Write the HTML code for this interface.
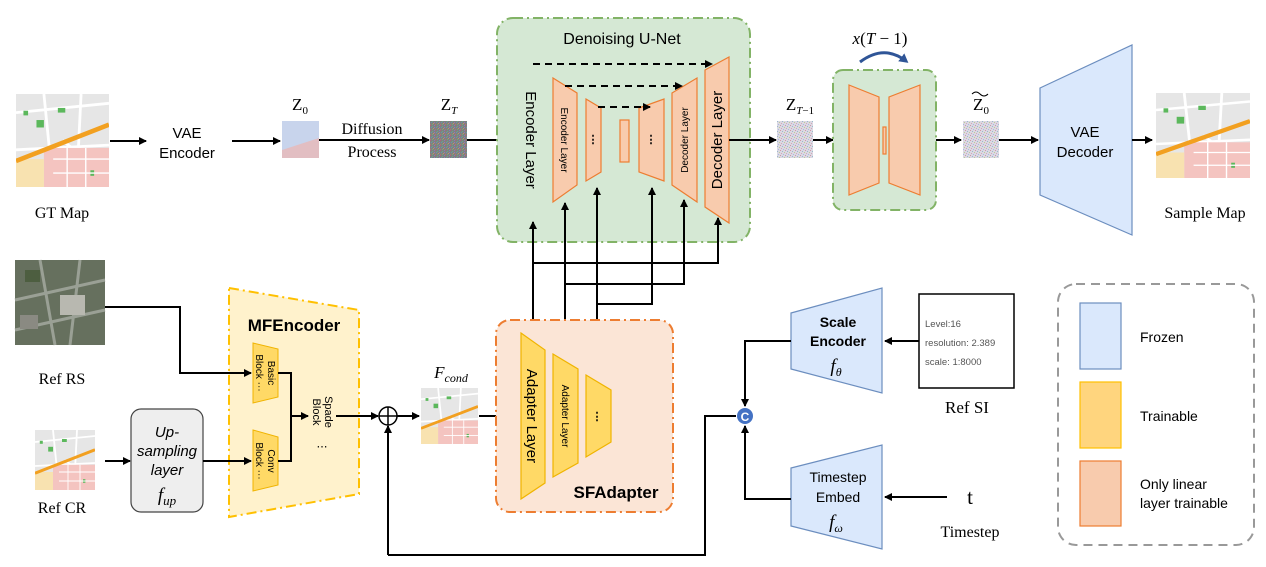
<!DOCTYPE html>
<html><head><meta charset="utf-8"><style>
html,body{margin:0;padding:0;background:#fff;}
svg{display:block;}
text{font-family:"Liberation Sans",sans-serif;}
.serif{font-family:"Liberation Serif",serif;}
</style></head><body>
<svg width="1266" height="567" viewBox="0 0 1266 567" xmlns="http://www.w3.org/2000/svg">
<defs>
<marker id="ar" markerWidth="8" markerHeight="8" refX="7" refY="4" orient="auto" markerUnits="userSpaceOnUse">
<path d="M0,0 L8,4 L0,8 z" fill="#000"/></marker>
<marker id="arb" markerWidth="10" markerHeight="10" refX="6" refY="5" orient="auto" markerUnits="userSpaceOnUse">
<path d="M0,0 L9,5 L0,10 z" fill="#2f5597"/></marker>
<symbol id="map" viewBox="0 0 100 100" preserveAspectRatio="none">
<rect width="100" height="100" fill="#e6e6e6"/>
<path d="M0,20 L100,10 M30,0 L40,100 M0,60 L100,55 M70,0 L65,100 M50,50 L100,90" stroke="#fff" stroke-width="3"/>
<rect x="30" y="58" width="70" height="42" fill="#f4c4c0"/>
<rect x="0" y="70" width="30" height="30" fill="#f8e2b0"/>
<path d="M0,72 L100,33" stroke="#f2a020" stroke-width="5"/>
<rect x="22" y="28" width="8" height="8" fill="#5cb85c"/><rect x="45" y="15" width="8" height="5" fill="#5cb85c"/>
<rect x="8" y="18" width="5" height="5" fill="#5cb85c"/><rect x="80" y="82" width="4" height="6" fill="#5cb85c"/>
<path d="M40,70 L100,70 M40,85 L100,85 M55,58 L55,100 M75,58 L75,100" stroke="#fff" stroke-width="1.5"/>
</symbol>
<pattern id="pn" width="5" height="5" patternUnits="userSpaceOnUse">
<rect width="5" height="5" fill="#808080"/>
<rect x="0" y="0" width="1" height="1" fill="#a67"/><rect x="2" y="1" width="1" height="1" fill="#6a8"/>
<rect x="4" y="0" width="1" height="1" fill="#78b"/><rect x="3" y="3" width="1" height="1" fill="#b96"/>
<rect x="1" y="2" width="1" height="1" fill="#69a"/><rect x="0" y="4" width="1" height="1" fill="#a77"/>
<rect x="2" y="4" width="1" height="1" fill="#7a7"/><rect x="4" y="2" width="1" height="1" fill="#97b"/>
</pattern>
<pattern id="pn2" width="5" height="5" patternUnits="userSpaceOnUse">
<rect width="5" height="5" fill="#dcd8e2"/>
<rect x="0" y="0" width="1" height="1" fill="#c9a"/><rect x="2" y="1" width="1" height="1" fill="#9bc"/>
<rect x="4" y="2" width="1" height="1" fill="#bc9"/><rect x="1" y="3" width="1" height="1" fill="#cab"/>
<rect x="3" y="4" width="1" height="1" fill="#abd"/>
</pattern>
</defs>

<!-- top row -->
<use href="#map" x="16" y="94" width="93" height="93"/>
<text x="62" y="218" font-size="16" text-anchor="middle" class="serif">GT Map</text>
<line x1="110" y1="141" x2="146" y2="141" stroke="#000" stroke-width="2" marker-end="url(#ar)"/>
<text x="187" y="138" font-size="15" text-anchor="middle">VAE</text>
<text x="187" y="158" font-size="15" text-anchor="middle">Encoder</text>
<line x1="232" y1="141" x2="280" y2="141" stroke="#000" stroke-width="2" marker-end="url(#ar)"/>
<rect x="282" y="121" width="37" height="37" fill="#c8d4ec"/>
<path d="M282,150 L319,138 L319,158 L282,158z" fill="#e9b8b8" opacity="0.8"/>
<text x="300" y="110" font-size="17" text-anchor="middle" class="serif">Z<tspan font-size="11" dy="4">0</tspan></text>
<line x1="319" y1="140" x2="429" y2="140" stroke="#000" stroke-width="2" marker-end="url(#ar)"/>
<text x="372" y="134" font-size="16" text-anchor="middle" class="serif">Diffusion</text>
<text x="372" y="157" font-size="16" text-anchor="middle" class="serif">Process</text>
<rect x="430" y="121" width="37" height="37" fill="url(#pn)"/>
<text x="449" y="110" font-size="17" text-anchor="middle" class="serif">Z<tspan font-size="11" dy="4" font-style="italic">T</tspan></text>
<line x1="467" y1="140" x2="512" y2="140" stroke="#000" stroke-width="2" marker-end="url(#ar)"/>

<!-- U-Net -->
<rect x="497" y="18" width="253" height="224" rx="16" fill="#d5e8d4" stroke="#82b366" stroke-width="2" stroke-dasharray="10,4,2,4"/>
<text x="622" y="44" font-size="16" text-anchor="middle">Denoising U-Net</text>
<text transform="translate(526,140) rotate(90)" font-size="15" text-anchor="middle">Encoder Layer</text>
<g fill="#f8cbad" stroke="#ed7d31" stroke-width="1.2">
<path d="M553,78 L577,93 L577,185 L553,202z"/>
<path d="M586,99 L601,108 L601,172 L586,181z"/>
<rect x="620" y="120" width="9" height="42"/>
<path d="M639,108 L664,99 L664,181 L639,172z"/>
<path d="M672,93 L697,78 L697,202 L672,185z"/>
<path d="M705,70 L729,57 L729,223 L705,207z"/>
</g>
<text transform="translate(561,140) rotate(90)" font-size="10" text-anchor="middle">Encoder Layer</text>
<text x="593" y="143" font-size="11" text-anchor="middle" font-weight="bold">⋮</text>
<text x="651" y="143" font-size="11" text-anchor="middle" font-weight="bold">⋮</text>
<text transform="translate(688,140) rotate(-90)" font-size="10" text-anchor="middle">Decoder Layer</text>
<text transform="translate(722,140) rotate(-90)" font-size="15" text-anchor="middle">Decoder Layer</text>
<g stroke="#000" stroke-width="2" stroke-dasharray="7,5" fill="none">
<line x1="533" y1="64" x2="712" y2="64" marker-end="url(#ar)"/>
<line x1="565" y1="86" x2="682" y2="86" marker-end="url(#ar)"/>
<line x1="598" y1="107" x2="650" y2="107" marker-end="url(#ar)"/>
</g>
<line x1="729" y1="140" x2="776" y2="140" stroke="#000" stroke-width="2" marker-end="url(#ar)"/>
<rect x="777" y="121" width="36" height="37" fill="url(#pn2)"/>
<text x="800" y="110" font-size="17" text-anchor="middle" class="serif">Z<tspan font-size="11" dy="4" font-style="italic">T</tspan><tspan font-size="11">−1</tspan></text>
<line x1="813" y1="140" x2="833" y2="140" stroke="#000" stroke-width="2" marker-end="url(#ar)"/>

<rect x="833" y="70" width="103" height="140" rx="10" fill="#d5e8d4" stroke="#82b366" stroke-width="2" stroke-dasharray="10,4,2,4"/>
<g fill="#f8cbad" stroke="#ed7d31" stroke-width="1.2">
<path d="M849,85 L879,97 L879,183 L849,195z"/>
<rect x="883" y="127" width="3" height="27"/>
<path d="M920,85 L889,97 L889,183 L920,195z"/>
</g>
<text x="880" y="44" font-size="17" text-anchor="middle" class="serif" font-style="italic">x<tspan font-style="normal">(</tspan>T<tspan font-style="normal"> − 1)</tspan></text>
<path d="M860,62 Q884,44 906,61" stroke="#2f5597" stroke-width="3" fill="none" marker-end="url(#arb)"/>
<line x1="936" y1="140" x2="961" y2="140" stroke="#000" stroke-width="2" marker-end="url(#ar)"/>
<rect x="963" y="121" width="36" height="37" fill="url(#pn2)"/>
<text x="981" y="110" font-size="17" text-anchor="middle" class="serif">Z<tspan font-size="11" dy="4">0</tspan></text>
<path d="M972,94 Q976,90 980,94 T988,94" stroke="#000" fill="none"/>
<line x1="999" y1="140" x2="1038" y2="140" stroke="#000" stroke-width="2" marker-end="url(#ar)"/>
<path d="M1040,88 L1132,45 L1132,235 L1040,195z" fill="#dae8fc" stroke="#6c8ebf" stroke-width="1.2"/>
<text x="1085" y="137" font-size="15" text-anchor="middle">VAE</text>
<text x="1085" y="157" font-size="15" text-anchor="middle">Decoder</text>
<line x1="1132" y1="140" x2="1152" y2="140" stroke="#000" stroke-width="2" marker-end="url(#ar)"/>
<use href="#map" x="1156" y="93" width="94" height="85"/>
<text x="1205" y="218" font-size="16" text-anchor="middle" class="serif">Sample Map</text>

<!-- connections from adapter up -->
<g stroke="#000" stroke-width="2" fill="none">
<polyline points="533,343 533,222" marker-end="url(#ar)"/>
<polyline points="533,263 718,263 718,218" marker-end="url(#ar)"/>
<polyline points="565,367 565,203" marker-end="url(#ar)"/>
<polyline points="565,284 684,284 684,200" marker-end="url(#ar)"/>
<polyline points="597,391 597,188" marker-end="url(#ar)"/>
<polyline points="597,304 652,304 652,188" marker-end="url(#ar)"/>
</g>

<!-- bottom left -->
<rect x="15" y="260" width="90" height="85" fill="#66705e"/>
<path d="M15,300 L105,280 M40,260 L55,345 M15,330 L105,310 M80,260 L70,345" stroke="#9aa095" stroke-width="3"/>
<rect x="60" y="295" width="25" height="20" fill="#b8b8b0"/>
<rect x="25" y="270" width="15" height="12" fill="#4d5e40"/>
<rect x="20" y="315" width="18" height="14" fill="#8a8a82"/>
<text x="62" y="384" font-size="16" text-anchor="middle" class="serif">Ref RS</text>
<use href="#map" x="35" y="430" width="60" height="60"/>
<text x="62" y="513" font-size="16" text-anchor="middle" class="serif">Ref CR</text>
<line x1="105" y1="461" x2="130" y2="461" stroke="#000" stroke-width="2" marker-end="url(#ar)"/>
<rect x="131" y="409" width="72" height="103" rx="10" fill="#eeeeee" stroke="#444" stroke-width="1.2"/>
<g font-size="15" font-style="italic" text-anchor="middle">
<text x="167" y="437">Up-</text><text x="167" y="456">sampling</text><text x="167" y="475">layer</text>
<text x="167" y="501" class="serif" font-size="19">f<tspan font-size="13" dy="4">up</tspan></text></g>

<path d="M229,288 L359,310 L359,494 L229,517z" fill="#fff2cc" stroke="#ffc000" stroke-width="2" stroke-dasharray="10,4,2,4"/>
<text x="294" y="331" font-size="17" font-weight="bold" text-anchor="middle">MFEncoder</text>
<g fill="#ffd966" stroke="#f0b400" stroke-width="1">
<path d="M253,343 L278,349 L278,397 L253,403z"/>
<path d="M253,430 L278,437 L278,485 L253,491z"/>
</g>
<text transform="translate(266,373) rotate(90)" font-size="10" text-anchor="middle"><tspan x="0" dy="-2">Basic</tspan><tspan x="0" dy="12">Block ⋯</tspan></text>
<text transform="translate(266,461) rotate(90)" font-size="10" text-anchor="middle"><tspan x="0" dy="-2">Conv</tspan><tspan x="0" dy="12">Block ⋯</tspan></text>
<text transform="translate(323,412) rotate(90)" font-size="11" text-anchor="middle"><tspan x="0" dy="-2">Spade</tspan><tspan x="0" dy="12">Block</tspan></text>
<text x="322" y="450" font-size="11" text-anchor="middle">⋯</text>
<g stroke="#000" stroke-width="2" fill="none">
<polyline points="105,307 180,307 180,373 251,373" marker-end="url(#ar)"/>
<polyline points="203,461 251,461" marker-end="url(#ar)"/>
<polyline points="278,373 291,373 291,461 278,461"/>
<polyline points="291,416 308,416" marker-end="url(#ar)"/>
<polyline points="336,416 378,416" marker-end="url(#ar)"/>
<polyline points="397,416 419,416" marker-end="url(#ar)"/>
<polyline points="388,555 388,426" marker-end="url(#ar)"/>
<polyline points="388,555 705,555 705,416 736,416"/>
</g>
<circle cx="388" cy="416" r="9" fill="#fff" stroke="#000" stroke-width="1.5"/>
<path d="M379,416 H397 M388,407 V425" stroke="#000" stroke-width="1.5"/>
<use href="#map" x="421" y="388" width="57" height="56"/>
<text x="451" y="378" font-size="17" text-anchor="middle" class="serif" font-style="italic">F<tspan font-size="12" dy="4">cond</tspan></text>
<line x1="479" y1="416" x2="519" y2="416" stroke="#000" stroke-width="2" marker-end="url(#ar)"/>

<!-- SFAdapter -->
<rect x="496" y="320" width="177" height="192" rx="14" fill="#fbe5d6" stroke="#ed7d31" stroke-width="2" stroke-dasharray="10,4,2,4"/>
<g fill="#ffd966" stroke="#f0b400" stroke-width="1.2">
<path d="M521,333 L545,350 L545,483 L521,499z"/>
<path d="M553,354 L578,369 L578,463 L553,477z"/>
<path d="M586,375 L611,390 L611,442 L586,457z"/>
</g>
<text transform="translate(527,416) rotate(90)" font-size="15" text-anchor="middle">Adapter Layer</text>
<text transform="translate(562,416) rotate(90)" font-size="10" text-anchor="middle">Adapter Layer</text>
<text x="597" y="420" font-size="11" text-anchor="middle" font-weight="bold">⋮</text>
<text x="616" y="498" font-size="17" font-weight="bold" text-anchor="middle">SFAdapter</text>

<!-- scale/time -->
<path d="M791,313 L882,288 L882,393 L791,369z" fill="#dae8fc" stroke="#6c8ebf" stroke-width="1.2"/>
<text x="838" y="327" font-size="14" font-weight="bold" text-anchor="middle">Scale</text>
<text x="838" y="346" font-size="14" font-weight="bold" text-anchor="middle">Encoder</text>
<text x="836" y="372" font-size="19" text-anchor="middle" class="serif" font-style="italic">f<tspan font-size="12" dy="4">θ</tspan></text>
<path d="M791,468 L882,445 L882,549 L791,526z" fill="#dae8fc" stroke="#6c8ebf" stroke-width="1.2"/>
<text x="838" y="482" font-size="14" text-anchor="middle">Timestep</text>
<text x="838" y="502" font-size="14" text-anchor="middle">Embed</text>
<text x="836" y="528" font-size="19" text-anchor="middle" class="serif" font-style="italic">f<tspan font-size="12" dy="4">ω</tspan></text>
<rect x="919" y="294" width="95" height="94" fill="#fff" stroke="#000" stroke-width="1.5"/>
<g font-size="9.5" fill="#555"><text x="925" y="327">Level:16</text><text x="925" y="346">resolution: 2.389</text><text x="925" y="365">scale: 1:8000</text></g>
<text x="967" y="413" font-size="17" text-anchor="middle" class="serif">Ref SI</text>
<text x="970" y="504" font-size="21" text-anchor="middle" class="serif">t</text>
<text x="970" y="537" font-size="16" text-anchor="middle" class="serif">Timestep</text>
<g stroke="#000" stroke-width="2" fill="none">
<polyline points="919,341 885,341" marker-end="url(#ar)"/>
<polyline points="947,497 885,497" marker-end="url(#ar)"/>
<polyline points="791,341 745,341 745,406" marker-end="url(#ar)"/>
<polyline points="791,499 745,499 745,426" marker-end="url(#ar)"/>
</g>
<circle cx="745" cy="416" r="8" fill="#4472c4"/>
<text x="745" y="421" font-size="12" font-weight="bold" fill="#fff" text-anchor="middle">C</text>

<!-- legend -->
<rect x="1058" y="284" width="196" height="261" rx="18" fill="none" stroke="#999" stroke-width="2" stroke-dasharray="9,6"/>
<rect x="1080" y="303" width="41" height="66" fill="#dae8fc" stroke="#6c8ebf" stroke-width="1.2"/>
<rect x="1080" y="382" width="41" height="66" fill="#ffd57e" stroke="#ffc000" stroke-width="1.2"/>
<rect x="1080" y="461" width="41" height="65" fill="#f8cbad" stroke="#ed7d31" stroke-width="1.2"/>
<g font-size="14"><text x="1140" y="342">Frozen</text><text x="1140" y="421">Trainable</text>
<text x="1140" y="489">Only linear</text><text x="1140" y="508">layer trainable</text></g>
</svg>
</body></html>
